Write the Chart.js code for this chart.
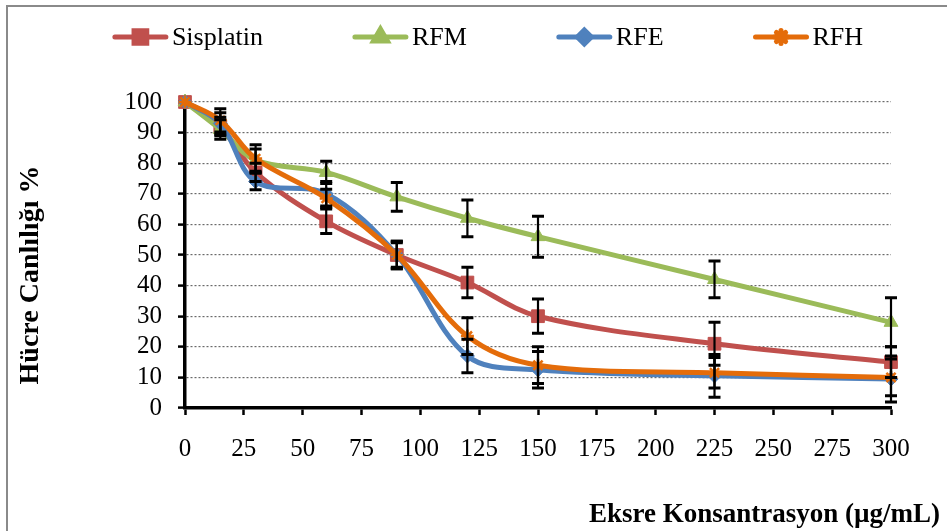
<!DOCTYPE html>
<html>
<head>
<meta charset="utf-8">
<script src="https://cdn.jsdelivr.net/npm/chart.js@4.4.1/dist/chart.umd.min.js"></script>
<style>
  html, body { margin: 0; padding: 0; background: #ffffff; }
  #wrap { width: 947px; height: 531px; position: relative; }
</style>
</head>
<body>
<div id="wrap"><canvas id="c" width="947" height="531"></canvas></div>
<script>
// Concentrations (µg/mL) and cell viability (%) with standard deviations
const concentrations = [0, 15, 30, 60, 90, 120, 150, 225, 300];

const sisplatin    = [100, 92, 77, 61, 50, 41, 30, 21, 15];
const sisplatinErr = [0, 3, 3, 4, 4.5, 5, 5.6, 7, 5];

const rfm    = [100, 91, 81, 77, 69, 62, 56, 42, 28];
const rfmErr = [0, 3.2, 3.6, 3.6, 4.7, 6, 6.7, 6, 8];

const rfe    = [100, 93, 74, 70, 50, 17, 12.5, 10.5, 9.5];
const rfeErr = [0, 3.5, 2.7, 4, 4, 5.5, 6, 7, 7.5];

const rfh    = [100, 94, 81.5, 68.5, 50, 23.5, 14, 11.5, 10];
const rfhErr = [0, 3.8, 4.5, 3, 4.5, 6, 6, 5, 6];

const xTickValues = [0, 25, 50, 75, 100, 125, 150, 175, 200, 225, 250, 275, 300];
const yTickValues = [0, 10, 20, 30, 40, 50, 60, 70, 80, 90, 100];

const xTitle = 'Eksre Konsantrasyon (µg/mL)';
const yTitle = 'Hücre Canlılığı %';

const SERIF = "'Liberation Serif', 'Times New Roman', serif";

function points(values) {
  return concentrations.map((x, i) => ({ x: x, y: values[i] }));
}

function series(label, values, errors, color, style, radius, order) {
  return {
    label: label,
    data: points(values),
    errors: errors,
    borderColor: color,
    backgroundColor: color,
    pointBackgroundColor: color,
    pointBorderColor: color,
    pointStyle: style,
    pointRadius: radius,
    pointHoverRadius: radius,
    pointBorderWidth: style === 'star' ? 2.5 : 1,
    borderWidth: 5,
    tension: 0.35,
    clip: false,
    order: order
  };
}

// Vertical error bars with caps, placed through the chart scales
const errorBarPlugin = {
  id: 'errorBars',
  afterDatasetsDraw(chart) {
    const ctx = chart.ctx;
    const xs = chart.scales.x, ys = chart.scales.y;
    ctx.save();
    ctx.strokeStyle = '#000000';
    chart.data.datasets.forEach(ds => {
      ds.data.forEach((p, i) => {
        const e = ds.errors[i];
        if (!e) return;
        const px = xs.getPixelForValue(p.x);
        const top = ys.getPixelForValue(p.y + e);
        const bot = ys.getPixelForValue(p.y - e);
        ctx.lineWidth = 2.2;
        ctx.beginPath();
        ctx.moveTo(px, top); ctx.lineTo(px, bot);
        ctx.stroke();
        ctx.lineWidth = 3;
        ctx.beginPath();
        ctx.moveTo(px - 6, top); ctx.lineTo(px + 6, top);
        ctx.moveTo(px - 6, bot); ctx.lineTo(px + 6, bot);
        ctx.stroke();
      });
    });
    ctx.restore();
  }
};

// Legend row: line segment with marker, followed by the series name
const legendPlugin = {
  id: 'lineLegend',
  afterDraw(chart) {
    const ctx = chart.ctx;
    ctx.save();
    ctx.font = '26px ' + SERIF;
    ctx.textBaseline = 'middle';
    ctx.textAlign = 'left';
    const lineLen = 55, textGap = 4, itemGap = 90, centerX = 488, cy = 37;
    const items = chart.data.datasets.map(ds => ({
      ds: ds,
      w: lineLen + textGap + ctx.measureText(ds.label).width
    }));
    const total = items.reduce((s, it) => s + it.w, 0) + itemGap * (items.length - 1);
    let x = centerX - total / 2;
    items.forEach(it => {
      const ds = it.ds;
      ctx.strokeStyle = ds.borderColor;
      ctx.fillStyle = ds.borderColor;
      ctx.lineWidth = 5;
      ctx.lineCap = 'round';
      ctx.beginPath();
      ctx.moveTo(x + 2, cy); ctx.lineTo(x + lineLen - 2, cy);
      ctx.stroke();
      Chart.helpers.drawPoint(ctx, {
        pointStyle: ds.pointStyle,
        radius: ds.pointRadius,
        rotation: 0,
        borderWidth: ds.pointBorderWidth
      }, x + lineLen / 2, cy);
      ctx.fillStyle = '#000000';
      ctx.fillText(ds.label, x + lineLen + textGap, cy + 1);
      x += it.w + itemGap;
    });
    ctx.restore();
  }
};

// Axis titles and the outer frame
const decorPlugin = {
  id: 'decor',
  afterDraw(chart) {
    const ctx = chart.ctx;
    ctx.save();
    ctx.strokeStyle = '#8a8a8a';
    ctx.lineWidth = 2;
    ctx.beginPath();
    ctx.moveTo(7, 531); ctx.lineTo(7, 6); ctx.lineTo(947, 6);
    ctx.stroke();

    ctx.fillStyle = '#000000';
    ctx.textBaseline = 'middle';
    ctx.font = 'bold 27px ' + SERIF;
    ctx.textAlign = 'right';
    ctx.fillText(xTitle, 940, 515);

    ctx.font = 'bold 28px ' + SERIF;
    ctx.translate(31, 275);
    ctx.rotate(-Math.PI / 2);
    ctx.textAlign = 'center';
    ctx.fillText(yTitle, 0, 0);
    ctx.restore();
  }
};

const chart = new Chart(document.getElementById('c'), {
  type: 'line',
  data: {
    datasets: [
      series('Sisplatin', sisplatin, sisplatinErr, '#C0504D', 'rect', 9, 4),
      series('RFM', rfm, rfmErr, '#9BBB59', 'triangle', 8, 3),
      series('RFE', rfe, rfeErr, '#4F81BD', 'rectRot', 7, 2),
      series('RFH', rfh, rfhErr, '#E46C0A', 'star', 6.5, 1)
    ]
  },
  options: {
    responsive: false,
    animation: false,
    events: [],
    layout: { padding: { top: 102, right: 56, bottom: 0, left: 0 } },
    plugins: {
      legend: { display: false },
      tooltip: { enabled: false },
      title: { display: false }
    },
    scales: {
      x: {
        type: 'linear',
        min: 0,
        max: 300,
        afterBuildTicks(scale) { scale.ticks = xTickValues.map(v => ({ value: v })); },
        afterFit(scale) { scale.height = 123; },
        ticks: {
          color: '#000000',
          font: { family: SERIF, size: 25 },
          padding: 19,
          maxRotation: 0,
          autoSkip: false
        },
        grid: {
          drawOnChartArea: false,
          drawTicks: true,
          tickLength: 7,
          tickColor: '#000000',
          tickWidth: 2.5
        },
        border: { display: true, color: '#000000', width: 3.5 }
      },
      y: {
        type: 'linear',
        min: 0,
        max: 100,
        afterBuildTicks(scale) { scale.ticks = yTickValues.map(v => ({ value: v })); },
        afterFit(scale) { scale.width = 185; },
        ticks: {
          color: '#000000',
          font: { family: SERIF, size: 25 },
          padding: 16,
          autoSkip: false
        },
        grid: {
          drawOnChartArea: true,
          drawTicks: true,
          tickLength: 7,
          tickColor: '#000000',
          tickWidth: 2.5,
          tickBorderDash: [],
          lineWidth: 1.2,
          color: ctx => (ctx.tick && ctx.tick.value === 0) ? 'rgba(0,0,0,0)' : '#6a6a6a'
        },
        border: { display: true, color: '#000000', width: 3.5, dash: [2, 2] }
      }
    }
  },
  plugins: [errorBarPlugin, legendPlugin, decorPlugin]
});
</script>
</body>
</html>
